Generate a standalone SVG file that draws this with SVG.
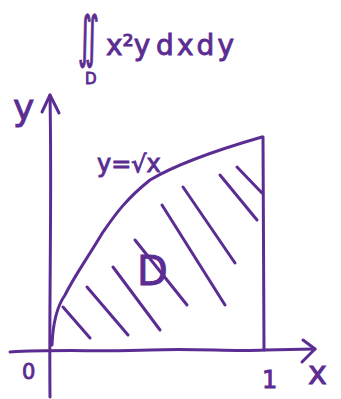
<svg xmlns="http://www.w3.org/2000/svg" width="341" height="399" viewBox="0 0 341 399">
<style>
.s{fill:none;stroke:#5b2d92;stroke-width:3;stroke-linecap:round;stroke-linejoin:round}
.t{fill:#5b2d92;stroke:#5b2d92;stroke-width:0.9;font-family:"DejaVu Sans",sans-serif}
</style>
<rect width="341" height="399" fill="#fff"/>
<g id="connectors">
<path class="s" d="M10,352 C60,349 100,352 150,350 S230,352 265,350 L315,349"/>
<path class="s" d="M303,340 L315,349 L302,362"/>
<path class="s" d="M50,397 C49,300 52,200 50,95"/>
<path class="s" d="M42,112 L50,95 L59,113"/>
<path class="s" d="M52,345 C53,320 58,305 65,295 C75,275 85,262 103,232 C115,215 125,200 150,180 C175,165 210,152 262,137"/>
<path class="s" d="M263,137 L264,350"/>
<g id="hatch">
<path class="s" d="M63,307 L90,338"/>
<path class="s" d="M87,287 L128,335"/>
<path class="s" d="M113,267 L160,330"/>
<path class="s" d="M135,240 L187,305"/>
<path class="s" d="M162,205 L225,305"/>
<path class="s" d="M183,187 L235,263"/>
<path class="s" d="M220,175 L257,220"/>
<path class="s" d="M237,167 L262,193"/>
</g>
</g>
<g id="formula">
<text class="t" transform="translate(78,56) scale(0.6,1.27)" x="0" y="0" font-size="44">∬</text>
<text class="t" x="85" y="84" font-size="15">D</text>
<text class="t" x="106" y="55" font-size="28">x²y</text>
<text class="t" x="156" y="55" font-size="28" textLength="78" lengthAdjust="spacing">dxdy</text>
</g>
<g id="region-label">
<text class="t" x="137" y="285" font-size="40">D</text>
</g>
<g id="curve-label">
<text class="t" x="97" y="172" font-size="24">y=√x</text>
</g>
<g id="axis-labels">
<text class="t" x="13" y="120" font-size="36">y</text>
<text class="t" x="22" y="379" font-size="21">0</text>
<text class="t" x="262" y="388" font-size="24">1</text>
<text class="t" x="308" y="384" font-size="32">x</text>
</g>
</svg>
